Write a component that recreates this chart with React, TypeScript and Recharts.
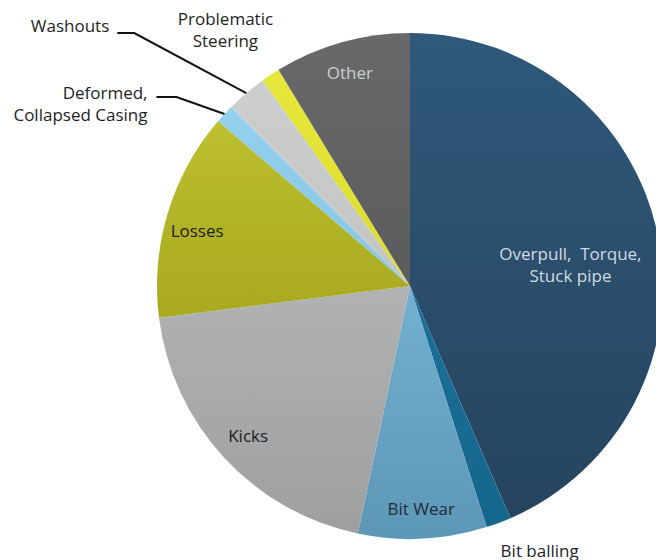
import React from 'react';
import { PieChart, Pie, Cell } from 'recharts';

// causes of non-productive time, share in percent, clockwise from 12 o'clock
const causes = [
    'Overpull, Torque, Stuck pipe',
    'Bit balling',
    'Bit Wear',
    'Kicks',
    'Losses',
    'Deformed, Collapsed Casing',
    'Washouts',
    'Problematic Steering',
    'Other',
];
const shares = [43.5, 1.6, 8.2, 19.7, 13.3, 1.2, 2.6, 1.2, 8.7];

const data = causes.map((name, i) => ({ name, value: shares[i] }));

// top / bottom colour of each slice gradient
const sliceColors: [string, string][] = [
    ['#2f587a', '#26445f'],
    ['#1b7099', '#14668c'],
    ['#74b0cf', '#5d97b7'],
    ['#b0b2b3', '#9d9fa0'],
    ['#bcbf30', '#a8a91f'],
    ['#93d1ee', '#86c6e4'],
    ['#cdcfcf', '#c3c5c5'],
    ['#e6e63c', '#dcdc2e'],
    ['#69696b', '#5a5b5d'],
];

const RADIAN = Math.PI / 180;
const FONT = '"Open Sans", sans-serif';
const NB = '\u00a0';

type LabelSpec =
    | { kind: 'inside'; r: number; shift?: number; lines: string[]; fill: string }
    | { kind: 'outside'; dx: number; dy: number; lines: string[]; anchor: 'start' | 'middle' | 'end'; leader?: [number, number, number] };

const labelSpecs: Record<string, LabelSpec> = {
    'Overpull, Torque, Stuck pipe': { kind: 'inside', r: 0.64, shift: -4, lines: [`Overpull,${NB} Torque,`, 'Stuck pipe'], fill: '#d3dae2' },
    'Bit balling': { kind: 'outside', dx: 41, dy: 27, lines: ['Bit balling'], anchor: 'middle' },
    'Bit Wear': { kind: 'inside', r: 0.88, lines: ['Bit Wear'], fill: '#1f2b36' },
    Kicks: { kind: 'inside', r: 0.87, lines: ['Kicks'], fill: '#1e1e1e' },
    Losses: { kind: 'inside', r: 0.87, shift: 2, lines: ['Losses'], fill: '#1e1e1e' },
    'Deformed, Collapsed Casing': { kind: 'outside', dx: -77, dy: -22, lines: ['Deformed,', 'Collapsed Casing'], anchor: 'end', leader: [-48, -17, 20] },
    Washouts: { kind: 'outside', dx: -137, dy: -68, lines: ['Washouts'], anchor: 'end', leader: [-112, -60, 17] },
    'Problematic Steering': { kind: 'outside', dx: -45, dy: -57, lines: ['Problematic', 'Steering'], anchor: 'middle' },
    Other: { kind: 'inside', r: 0.88, lines: ['Other'], fill: '#cfcfcf' },
};

const LINE_H = 22;
const FONT_SIZE = 17;

const renderLabel = (props: any) => {
    const { cx, cy, midAngle, outerRadius, name } = props;
    const spec = labelSpecs[name];
    if (!spec) return null;
    if (spec.kind === 'inside') {
        const a = (midAngle + (spec.shift || 0)) * RADIAN;
        const r = outerRadius * spec.r;
        const x = cx + r * Math.cos(a);
        const y = cy - r * Math.sin(a);
        const top = y - ((spec.lines.length - 1) * LINE_H) / 2;
        return (
            <text x={x} y={top} fill={spec.fill} textAnchor="middle" dominantBaseline="central"
                fontFamily={FONT} fontSize={FONT_SIZE}>
                {spec.lines.map((l, i) => (
                    <tspan key={i} x={x} y={top + i * LINE_H}>{l}</tspan>
                ))}
            </text>
        );
    }
    const a = midAngle * RADIAN;
    const px = cx + outerRadius * Math.cos(a);
    const py = cy - outerRadius * Math.sin(a);
    const tx = px + spec.dx;
    const ty = py + spec.dy;
    let leader = null;
    if (spec.leader) {
        const [ex, ey, run] = spec.leader;
        const elbowX = px + ex;
        const elbowY = py + ey;
        leader = (
            <polyline
                points={`${px},${py} ${elbowX},${elbowY} ${elbowX - run},${elbowY}`}
                fill="none" stroke="#111" strokeWidth={2}
            />
        );
    }
    return (
        <g>
            {leader}
            <text x={tx} y={ty} fill="#1e1e1e" textAnchor={spec.anchor} dominantBaseline="central"
                fontFamily={FONT} fontSize={FONT_SIZE}>
                {spec.lines.map((l, i) => (
                    <tspan key={i} x={tx} y={ty + i * LINE_H}>{l}</tspan>
                ))}
            </text>
        </g>
    );
};

export default function App() {
    return (
        <div style={{ position: 'absolute', left: 0, top: 0, width: 656, height: 560, background: '#fff' }}>
            <PieChart width={656} height={560} margin={{ top: 0, right: 0, bottom: 0, left: 0 }}>
                <defs>
                    {sliceColors.map(([c1, c2], i) => (
                        <linearGradient key={i} id={`slice${i}`} x1="0" y1="0" x2="0" y2="1">
                            <stop offset="0%" stopColor={c1} />
                            <stop offset="100%" stopColor={c2} />
                        </linearGradient>
                    ))}
                </defs>
                <Pie
                    data={data}
                    dataKey="value"
                    nameKey="name"
                    cx={410}
                    cy={286}
                    outerRadius={253}
                    startAngle={90}
                    endAngle={-270}
                    stroke="none"
                    label={renderLabel}
                    labelLine={false}
                    isAnimationActive={false}
                >
                    {data.map((d, i) => (
                        <Cell key={d.name} fill={`url(#slice${i})`} />
                    ))}
                </Pie>
            </PieChart>
        </div>
    );
}
